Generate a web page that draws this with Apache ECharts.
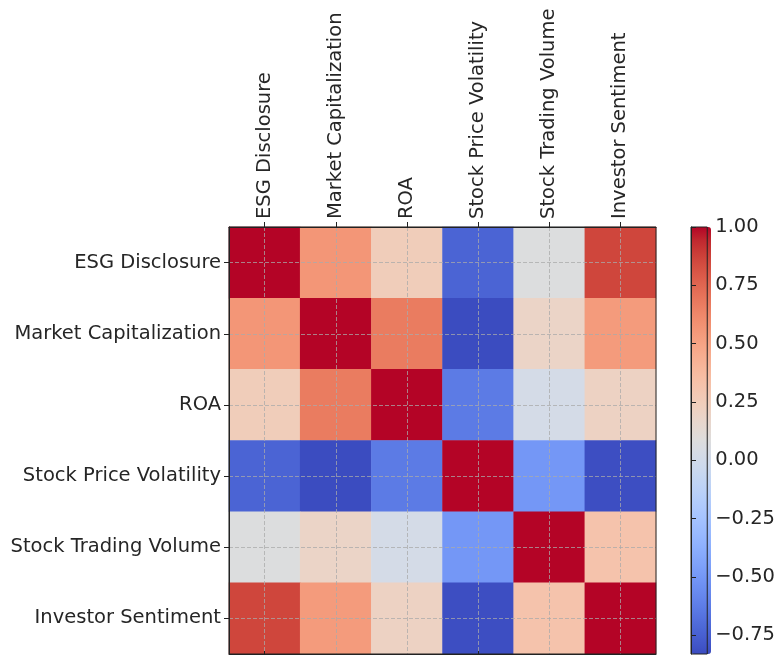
<!DOCTYPE html>
<html>
<head>
<meta charset="utf-8">
<script src="https://cdn.jsdelivr.net/npm/echarts@6/dist/echarts.min.js"></script>
<style>
  html, body { margin: 0; padding: 0; background: #ffffff; }
  #chart { width: 778px; height: 655px; }
</style>
</head>
<body>
<div id="chart"></div>
<script>
// Variables of the correlation matrix (same order on both axes)
const variables = [
  'ESG Disclosure',
  'Market Capitalization',
  'ROA',
  'Stock Price Volatility',
  'Stock Trading Volume',
  'Investor Sentiment'
];

// Correlation matrix rows
const rowESG = [1.00, 0.56, 0.25, -0.73, 0.08, 0.86];
const rowMarketCap = [0.56, 1.00, 0.67, -0.83, 0.19, 0.54];
const rowROA = [0.25, 0.67, 1.00, -0.63, 0.02, 0.21];
const rowVolatility = [-0.73, -0.83, -0.63, 1.00, -0.50, -0.82];
const rowTradingVolume = [0.08, 0.19, 0.02, -0.50, 1.00, 0.32];
const rowSentiment = [0.86, 0.54, 0.21, -0.82, 0.32, 1.00];

// Colour bar tick labels
const colorbarTicks = [1.00, 0.75, 0.50, 0.25, 0.00, -0.25, -0.50, -0.75];

// coolwarm colour ramp
const coolwarm = [
  '#3b4cc0', '#445acc', '#4d68d7', '#5775e1', '#6282ea', '#6c8ef1', '#779af7', '#82a5fb',
  '#8db0fe', '#98b9ff', '#a3c2ff', '#aec9fd', '#b8d0f9', '#c2d5f4', '#ccd9ee', '#d5dbe6',
  '#dddddd', '#e5d8d1', '#ecd3c5', '#f1ccb9', '#f5c4ad', '#f7bba0', '#f7b194', '#f7a688',
  '#f49a7b', '#f18d6f', '#ec7f63', '#e57058', '#de604d', '#d55042', '#cb3e38', '#c0282f',
  '#b40426'
];

const matrix = [rowESG, rowMarketCap, rowROA, rowVolatility, rowTradingVolume, rowSentiment];
const cells = [];
matrix.forEach((row, i) => row.forEach((v, j) => cells.push([j, i, v])));
const allValues = matrix.flat();
const vMin = Math.min(...allValues);
const vMax = Math.max(...allValues);

const fmtTick = v => v.toFixed(2).replace('-', '\u2212');
const textColor = '#262626';
const fontFamily = 'DejaVu Sans';
const labelSize = 19.5;

const chart = echarts.init(document.getElementById('chart'), null, { renderer: 'canvas' });

chart.setOption({
  animation: false,
  backgroundColor: '#ffffff',
  textStyle: { fontFamily: fontFamily },
  grid: [
    { left: 229, top: 227, width: 427, height: 427, show: true, z: 10,
      backgroundColor: 'transparent', borderColor: '#222', borderWidth: 1, containLabel: false },
    { left: 691, top: 227, width: 20, height: 427, show: true, z: 10,
      backgroundColor: 'transparent', borderColor: '#222', borderWidth: 1, containLabel: false }
  ],
  xAxis: [
    {
      type: 'category', gridIndex: 0, data: variables, position: 'top', z: 5,
      axisLine: { show: true, lineStyle: { color: '#222', width: 1 } },
      axisTick: { show: true, alignWithLabel: true, length: 5, lineStyle: { color: '#222' } },
      axisLabel: { rotate: -90, margin: 8, fontSize: labelSize, color: textColor, fontFamily: fontFamily },
      splitLine: { show: true, alignWithLabel: true,
        lineStyle: { color: 'rgba(170,170,170,0.75)', width: 1, type: [4, 2] } },
      splitArea: { show: false }
    },
    {
      type: 'category', gridIndex: 0, data: variables, position: 'bottom', z: 5,
      axisLine: { show: true, lineStyle: { color: '#222', width: 1 } },
      axisTick: { show: true, alignWithLabel: true, length: 3, inside: true, lineStyle: { color: '#222' } },
      axisLabel: { show: false },
      splitLine: { show: false }
    },
    {
      type: 'value', gridIndex: 1, min: 0, max: 1, show: false
    }
  ],
  yAxis: [
    {
      type: 'category', gridIndex: 0, data: variables, inverse: true, z: 5,
      axisLine: { show: true, lineStyle: { color: '#222', width: 1 } },
      axisTick: { show: true, alignWithLabel: true, length: 5, lineStyle: { color: '#222' } },
      axisLabel: { margin: 8, fontSize: labelSize, color: textColor, fontFamily: fontFamily,
        padding: [5, 0, 0, 0] },
      splitLine: { show: true, alignWithLabel: true,
        lineStyle: { color: 'rgba(170,170,170,0.75)', width: 1, type: [4, 2] } },
      splitArea: { show: false }
    },
    {
      type: 'value', gridIndex: 1, min: vMin, max: vMax, position: 'right', z: 11,
      axisLine: { show: true, lineStyle: { color: '#222', width: 1 } },
      axisTick: { show: true, length: 5, customValues: colorbarTicks, lineStyle: { color: '#222' } },
      axisLabel: { margin: 8, fontSize: labelSize, color: textColor, fontFamily: fontFamily,
        customValues: colorbarTicks, formatter: fmtTick },
      splitLine: { show: false }
    }
  ],
  visualMap: {
    type: 'continuous',
    min: vMin,
    max: vMax,
    seriesIndex: 0,
    orient: 'vertical',
    left: 691,
    top: 227,
    itemWidth: 20,
    itemHeight: 427,
    padding: 0,
    calculable: false,
    hoverLink: false,
    showLabel: false,
    text: null,
    inRange: { color: coolwarm }
  },
  series: [
    {
      type: 'heatmap',
      xAxisIndex: 0,
      yAxisIndex: 0,
      data: cells,
      itemStyle: { borderWidth: 0 },
      emphasis: { disabled: true }
    }
  ]
});
</script>
</body>
</html>
